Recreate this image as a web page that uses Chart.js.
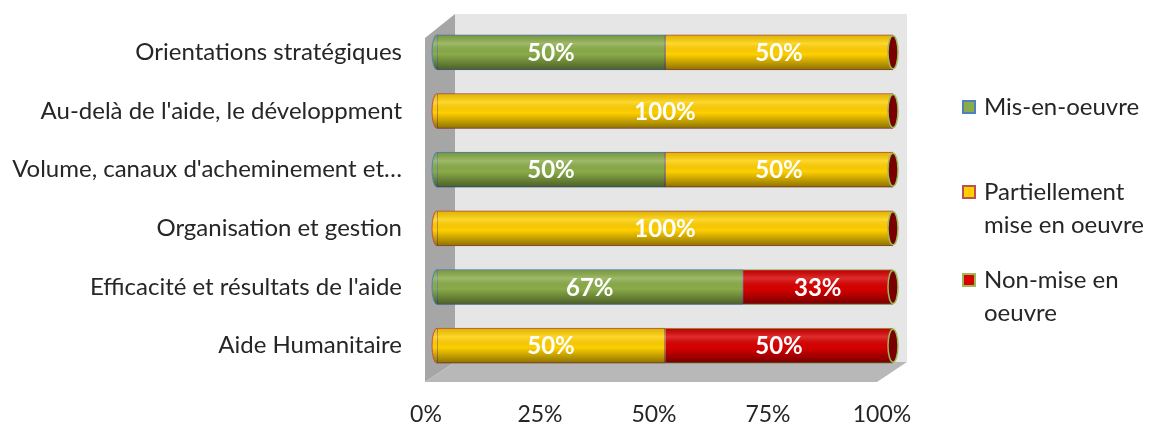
<!DOCTYPE html>
<html>
<head>
<meta charset="utf-8">
<script src="https://cdn.jsdelivr.net/npm/chart.js@4.4.0/dist/chart.umd.min.js"></script>
<style>
  html, body { margin: 0; padding: 0; background: #fff; }
  #wrap { width: 1159px; height: 428px; }
</style>
</head>
<body>
<div id="wrap"><canvas id="chart"></canvas></div>
<script>
// categories, top to bottom
var categories = [
  'Orientations stratégiques',
  "Au-delà de l'aide, le développment",
  "Volume, canaux d'acheminement et…",
  'Organisation et gestion',
  "Efficacité et résultats de l'aide",
  'Aide Humanitaire'
];

var misEnOeuvre   = [50, 0, 50, 0, 67, 0];
var partiellement = [50, 100, 50, 100, 0, 50];
var nonMise       = [0, 0, 0, 0, 33, 50];

var xTicks = [0, 25, 50, 75, 100];

var seriesNames = ['Mis-en-oeuvre', 'Partiellement mise en oeuvre', 'Non-mise en oeuvre'];
var legendLines = [['Mis-en-oeuvre'], ['Partiellement', 'mise en oeuvre'], ['Non-mise en', 'oeuvre']];

var FONT = 'Lato, "Open Sans", sans-serif';
var fills   = ['#8aac48', '#ffcf00', '#d80000'];
var borders = ['#4f81bd', '#c0504d', '#9bbb59'];

// 3D box: side wall, back wall, floor
var wallsPlugin = {
  id: 'walls',
  beforeDraw: function (chart) {
    var a = chart.chartArea, c = chart.ctx;
    var L = a.left, R = a.right, T = a.top, B = a.bottom;
    c.save();
    c.fillStyle = '#e6e6e6';
    c.fillRect(L + 18, T - 9, R - L - 4, B - T - 4);
    c.fillStyle = '#a6a6a6';
    c.beginPath();
    c.moveTo(L - 12, T + 15); c.lineTo(L + 18, T - 9);
    c.lineTo(L + 18, B - 13); c.lineTo(L - 12, B + 7);
    c.closePath(); c.fill();
    c.fillStyle = '#b8b8b8';
    c.beginPath();
    c.moveTo(L - 12, B + 7); c.lineTo(L + 18, B - 13);
    c.lineTo(R + 14, B - 13); c.lineTo(R - 16, B + 7);
    c.closePath(); c.fill();
    c.restore();
  }
};

// cylinder shading, end caps and value labels
var cylinderPlugin = {
  id: 'cylinder',
  afterDatasetsDraw: function (chart) {
    var c = chart.ctx;
    var metas = chart.data.datasets.map(function (d, i) { return chart.getDatasetMeta(i); });
    categories.forEach(function (cat, row) {
      var first = null, last = null, firstDs = 0;
      metas.forEach(function (m, di) {
        var v = chart.data.datasets[di].data[row];
        if (v > 0) {
          if (!first) { first = m.data[row]; firstDs = di; }
          last = m.data[row];
        }
      });
      if (!first) return;
      var y = first.y, h = first.height, top = y - h / 2;
      var x0 = first.base, x1 = last.x, rx = 5;

      // rounded left end
      c.save();
      c.beginPath();
      c.ellipse(x0, y, rx, h / 2, 0, Math.PI / 2, Math.PI * 1.5);
      c.closePath();
      c.fillStyle = fills[firstDs];
      c.fill();

      // shading overlay
      c.beginPath();
      c.ellipse(x0, y, rx, h / 2, 0, Math.PI / 2, Math.PI * 1.5);
      c.lineTo(x1, top);
      c.lineTo(x1, top + h);
      c.closePath();
      var g = c.createLinearGradient(0, top, 0, top + h);
      g.addColorStop(0, 'rgba(0,0,0,0.12)');
      g.addColorStop(0.25, 'rgba(255,255,255,0.18)');
      g.addColorStop(0.55, 'rgba(0,0,0,0)');
      g.addColorStop(1, 'rgba(0,0,0,0.45)');
      c.fillStyle = g;
      c.fill();
      c.beginPath();
      c.ellipse(x0, y, rx, h / 2, 0, Math.PI / 2, Math.PI * 1.5);
      c.strokeStyle = borders[firstDs];
      c.lineWidth = 1;
      c.stroke();

      // right cap
      c.beginPath();
      c.ellipse(x1, y, rx, h / 2 - 1, 0, 0, Math.PI * 2);
      c.fillStyle = '#7a0000';
      c.fill();
      c.strokeStyle = '#9bbb59';
      c.lineWidth = 1.5;
      c.stroke();
      c.restore();
    });

    c.save();
    c.fillStyle = '#ffffff';
    c.font = 'bold 24px ' + FONT;
    c.textAlign = 'center';
    c.textBaseline = 'middle';
    metas.forEach(function (m, di) {
      m.data.forEach(function (el, i) {
        var v = chart.data.datasets[di].data[i];
        if (v > 0) c.fillText(v + '%', (el.x + el.base) / 2, el.y + 1);
      });
    });
    c.restore();
  }
};

// legend on the right with wrapped labels
var legendPlugin = {
  id: 'sideLegend',
  afterDraw: function (chart) {
    var c = chart.ctx;
    var rows = [107, 192, 280];
    c.save();
    c.font = '24px ' + FONT;
    c.textBaseline = 'middle';
    legendLines.forEach(function (lines, i) {
      var y = rows[i];
      c.fillStyle = fills[i];
      c.fillRect(963, y - 6, 12, 12);
      c.strokeStyle = borders[i];
      c.lineWidth = 2;
      c.strokeRect(963, y - 6, 12, 12);
      c.fillStyle = '#262626';
      lines.forEach(function (t, k) {
        c.fillText(t, 984, y + k * 33);
      });
    });
    c.restore();
  }
};

function series(label, data, i) {
  return {
    label: label,
    data: data,
    backgroundColor: fills[i],
    borderColor: borders[i],
    borderWidth: function (ctx) { return ctx.raw > 0 ? 1 : 0; },
    borderSkipped: false,
    barThickness: 35
  };
}

new Chart(document.getElementById('chart'), {
  type: 'bar',
  data: {
    labels: categories,
    datasets: [
      series(seriesNames[0], misEnOeuvre, 0),
      series(seriesNames[1], partiellement, 1),
      series(seriesNames[2], nonMise, 2)
    ]
  },
  options: {
    indexAxis: 'y',
    responsive: true,
    maintainAspectRatio: false,
    animation: false,
    layout: { padding: { left: 0, right: 266, top: 23, bottom: 0 } },
    plugins: {
      legend: { display: false },
      tooltip: { enabled: false }
    },
    scales: {
      x: {
        stacked: true,
        min: 0,
        max: 100,
        afterBuildTicks: function (s) {
          s.ticks = xTicks.map(function (v) { return { value: v }; });
        },
        afterFit: function (s) { s.height = 53; },
        grid: { display: false },
        border: { display: false },
        ticks: {
          padding: 18,
          labelOffset: -11,
          color: '#262626',
          font: { family: FONT, size: 23 },
          callback: function (v) { return v + '%'; }
        }
      },
      y: {
        stacked: true,
        afterFit: function (s) {
          s.width = 437;
          s.paddingTop = 0;
          s.paddingBottom = 0;
        },
        grid: { display: false },
        border: { display: false },
        ticks: {
          padding: 27,
          color: '#262626',
          font: { family: FONT, size: 24 }
        }
      }
    }
  },
  plugins: [wallsPlugin, cylinderPlugin, legendPlugin]
});
</script>
</body>
</html>
